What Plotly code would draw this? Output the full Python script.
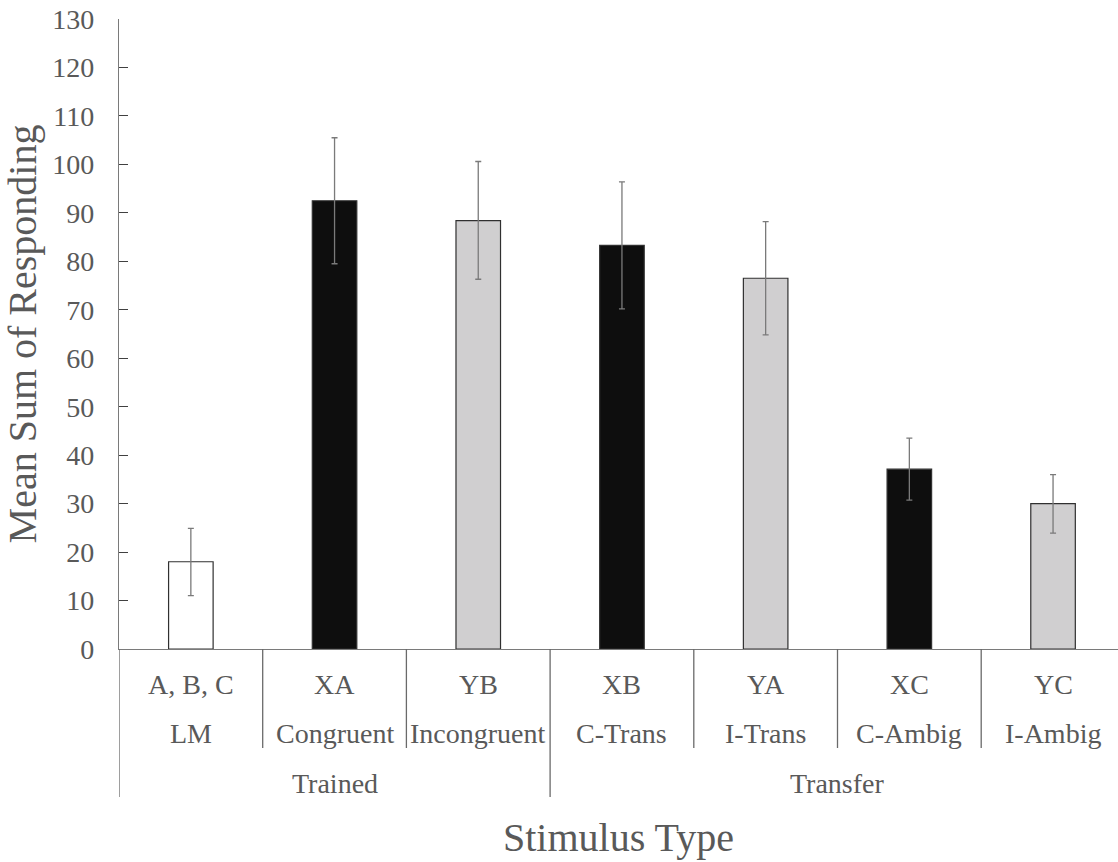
import plotly.graph_objects as go

codes = ["A, B, C", "XA", "YB", "XB", "YA", "XC", "YC"]
names = ["LM", "Congruent", "Incongruent", "C-Trans", "I-Trans", "C-Ambig", "I-Ambig"]
groups = ["Trained", "Transfer"]
group_spans = [(0, 2), (3, 6)]
means = [18.0, 92.5, 88.4, 83.3, 76.5, 37.1, 30.0]
err_up = [6.9, 13.0, 12.2, 13.1, 11.7, 6.4, 6.0]
err_down = [7.0, 13.0, 12.1, 13.1, 11.7, 6.4, 6.1]
fills = ["#ffffff", "#0e0e0e", "#d0cfd0", "#0e0e0e", "#d0cfd0", "#0e0e0e", "#d0cfd0"]

xs = list(range(len(codes)))

TOP, BOT = 19, 649
H = BOT - TOP
def py(pix):
    return (BOT - pix) / H

GRAY = "#595959"
FONT = "'Liberation Serif', 'Times New Roman', serif"

fig = go.Figure()
fig.add_trace(go.Bar(
    x=xs, y=means, width=0.31,
    marker=dict(color=fills, line=dict(color="#303030", width=1.2)),
    error_y=dict(type="data", symmetric=False, array=err_up, arrayminus=err_down,
                 color="#7a7a7a", thickness=1.3, width=3),
    showlegend=False,
))

ann = []
for i in xs:
    ann.append(dict(x=i, y=py(684), xref="x", yref="paper", text=codes[i], showarrow=False,
                    font=dict(family=FONT, size=28, color=GRAY), yanchor="middle"))
    ann.append(dict(x=i, y=py(733), xref="x", yref="paper", text=names[i], showarrow=False,
                    font=dict(family=FONT, size=28, color=GRAY), yanchor="middle"))
for g, (a, b) in zip(groups, group_spans):
    ann.append(dict(x=(a + b) / 2, y=py(783), xref="x", yref="paper", text=g, showarrow=False,
                    font=dict(family=FONT, size=28, color=GRAY), yanchor="middle"))

shapes = []
starts = {a for a, b in group_spans}
for i in range(len(codes) + 1):
    xb = i - 0.5
    y1 = py(797) if (i in starts or i == len(codes)) else py(748)
    shapes.append(dict(type="line", xref="x", yref="paper", x0=xb, x1=xb, y0=0, y1=y1,
                       line=dict(color="#6a6a6a", width=1.3)))

ann.append(dict(x=0.5, xref="paper", y=py(837), yref="paper", text="Stimulus Type", showarrow=False,
                font=dict(family=FONT, size=40, color=GRAY), yanchor="middle"))

fig.update_layout(
    width=1118, height=862,
    margin=dict(l=119, r=0, t=TOP, b=862 - BOT),
    plot_bgcolor="white", paper_bgcolor="white",
    annotations=ann, shapes=shapes,
    xaxis=dict(range=[-0.5, -0.5 + (1118 - 119) / 143.7], showticklabels=False, ticks="",
               showgrid=False, zeroline=False, showline=True, linecolor="#7a7a7a", linewidth=1.3),
    yaxis=dict(range=[0, 130], dtick=10, tick0=0, ticks="inside", ticklen=9, tickcolor="#404040",
               tickwidth=1.2, showgrid=False, zeroline=False, showline=True, linecolor="#7a7a7a",
               linewidth=1.3, tickfont=dict(family=FONT, size=28, color=GRAY),
               ticklabelstandoff=18,
               title=dict(text="Mean Sum of Responding", font=dict(family=FONT, size=40, color=GRAY),
                          standoff=4)),
)
fig.write_html("out.html")
